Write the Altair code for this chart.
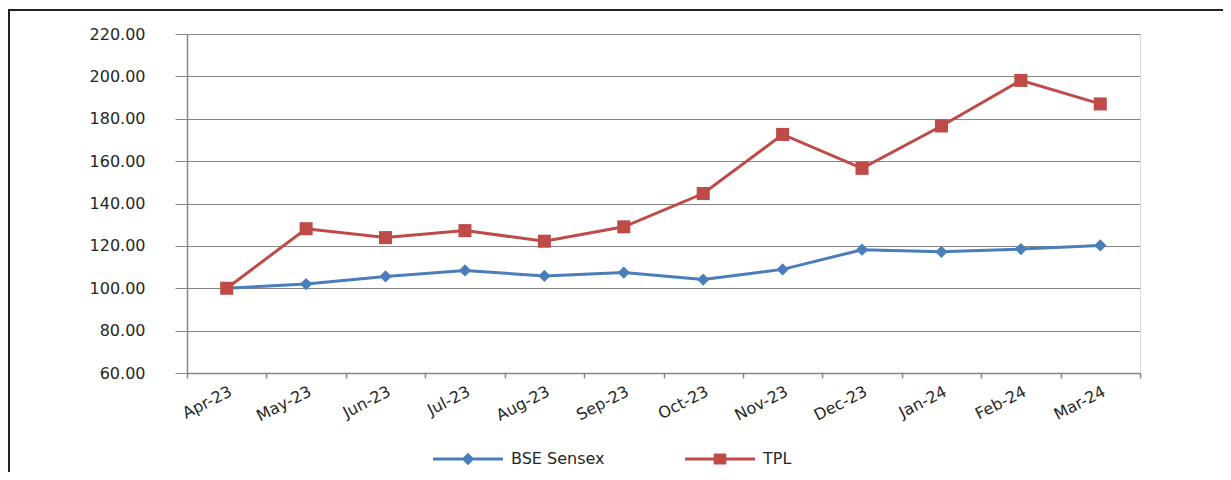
import altair as alt
import pandas as pd

months = ["Apr-23", "May-23", "Jun-23", "Jul-23", "Aug-23", "Sep-23",
          "Oct-23", "Nov-23", "Dec-23", "Jan-24", "Feb-24", "Mar-24"]
bse = [100.0, 102.0, 105.6, 108.4, 105.8, 107.4, 104.1, 108.9, 118.2, 117.2, 118.5, 120.2]
tpl = [100.0, 128.1, 123.9, 127.2, 122.2, 129.0, 144.7, 172.6, 156.6, 176.6, 198.1, 187.0]
series = ["BSE Sensex", "TPL"]
colors = ["#4A7EBB", "#BE4B48"]

rows = []
for m, b, t in zip(months, bse, tpl):
    rows.append({"month": m, "series": series[0], "value": b})
    rows.append({"month": m, "series": series[1], "value": t})
df = pd.DataFrame(rows)

GRAY = "#868686"
FONT = "DejaVu Sans"

bse_path = "M-1,-0.045L1,-0.045L1,0.045L-1,0.045Z M0,-0.18L0.18,0L0,0.18L-0.18,0Z"
tpl_path = "M-1,-0.045L1,-0.045L1,0.045L-1,0.045Z M-0.18,-0.16L0.18,-0.16L0.18,0.16L-0.18,0.16Z"

x_enc = alt.X(
    "month:N", sort=months, title=None,
    scale=alt.Scale(type="band", paddingInner=0, paddingOuter=0),
    axis=alt.Axis(tickBand="extent", labelAngle=-27, labelAlign="right",
                  labelBaseline="top", tickSize=5, labelPadding=5,
                  domainColor=GRAY, domainWidth=1.5, tickColor=GRAY, tickWidth=1.5,
                  labelFont=FONT, labelFontSize=16, labelColor="#262626",
                  grid=False, labelOverlap=False),
)
y_enc = alt.Y(
    "value:Q", title=None,
    scale=alt.Scale(domain=[60, 220], nice=False, zero=False),
    axis=alt.Axis(values=list(range(60, 221, 20)), format=".2f", tickSize=12,
                  labelPadding=30, domainColor=GRAY, domainWidth=1.5,
                  tickColor=GRAY, tickWidth=1, gridColor=GRAY, gridWidth=1,
                  labelFont=FONT, labelFontSize=16, labelColor="#262626"),
)
color_scale = alt.Scale(domain=series, range=colors)

base = alt.Chart(df)

lines = base.mark_line(strokeWidth=3).encode(
    x=x_enc, y=y_enc,
    color=alt.Color("series:N", scale=color_scale, legend=None),
)

points = base.mark_point(filled=True, opacity=1).encode(
    x=x_enc, y=y_enc,
    color=alt.Color("series:N", scale=color_scale, legend=None),
    shape=alt.Shape("series:N", scale=alt.Scale(domain=series, range=["diamond", "square"]), legend=None),
    size=alt.Size("series:N", scale=alt.Scale(domain=series, range=[150, 170]), legend=None),
)

legend_props = dict(
    title=None, orient="none", legendX=246, legendY=390,
    direction="horizontal", symbolSize=4900, symbolStrokeWidth=0,
    symbolOpacity=1,
    labelFont=FONT, labelFontSize=16, labelColor="#262626",
    labelOffset=8, columnPadding=80, padding=0,
)

legend_layer = base.transform_filter("false").mark_point(filled=True, opacity=1).encode(
    x=x_enc, y=y_enc,
    color=alt.Color("series:N", scale=color_scale, legend=alt.Legend(**legend_props)),
    shape=alt.Shape("series:N", scale=alt.Scale(domain=series, range=[bse_path, tpl_path]),
                    legend=alt.Legend(**legend_props)),
)

border = alt.Chart(alt.Data(values=[{"a": 1}])).mark_rect(
    fill=None, stroke="#222222", strokeWidth=2
).encode(
    x=alt.value(-178), x2=alt.value(1200), y=alt.value(-24), y2=alt.value(600)
)

chart = alt.layer(lines, points, legend_layer, border).resolve_scale(
    shape="independent", color="independent"
).properties(
    width=953, height=339,
    autosize=alt.AutoSizeParams(type="none"),
    padding={"left": 179, "top": 26, "right": 83, "bottom": 99},
).configure_view(stroke=None).configure(background="white")

chart.save("out.html", embed_options={"renderer": "svg", "actions": False})
